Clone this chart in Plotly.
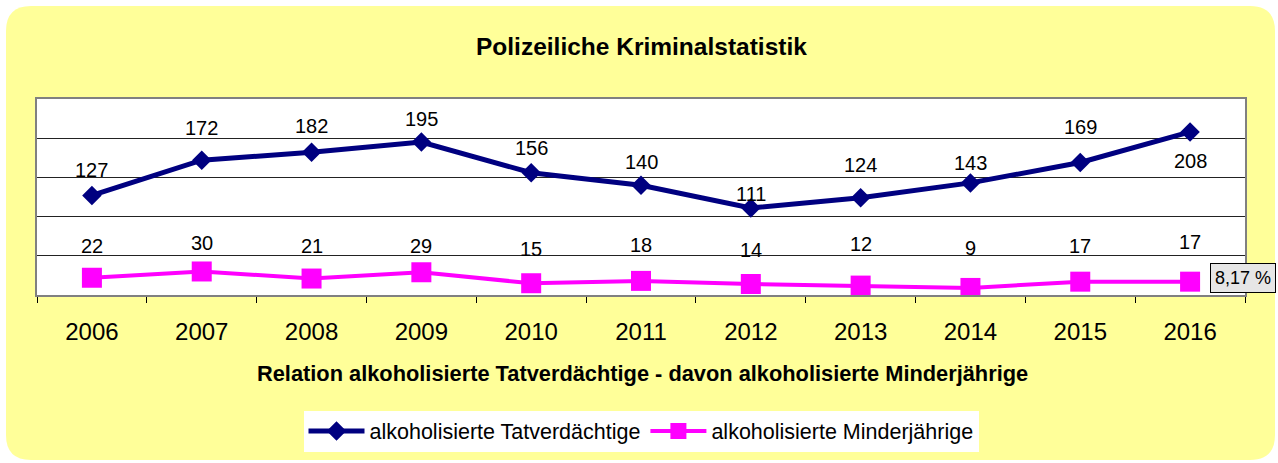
import plotly.graph_objects as go

years = ["2006", "2007", "2008", "2009", "2010", "2011", "2012", "2013", "2014", "2015", "2016"]
tatverdaechtige = [127, 172, 182, 195, 156, 140, 111, 124, 143, 169, 208]
minderjaehrige = [22, 30, 21, 29, 15, 18, 14, 12, 9, 17, 17]
name_tv = "alkoholisierte Tatverdächtige"
name_mj = "alkoholisierte Minderjährige"
title_text = "Polizeiliche Kriminalstatistik"
xtitle_text = "Relation alkoholisierte Tatverdächtige - davon alkoholisierte Minderjährige"
ratio_text = "8,17 %"

# label pixel offsets (style)
off_tv = [25, 32, 26, 23, 25, 23, 14, 33, 20, 36, -29]
off_mj = [32, 28, 33, 26, 34, 36, 34, 42, 40, 36, 40]

FONT = "Liberation Sans, Arial, sans-serif"
W, H = 1278, 463
L, R, T, B = 37, 33, 99, 168
pw, ph = W - L - R, H - T - B

def px(x):
    return (x - L) / pw

def py(y):
    return (H - B - y) / ph

fig = go.Figure()
fig.add_trace(go.Scatter(
    x=years, y=tatverdaechtige, name=name_tv, mode="lines+markers",
    line=dict(color="#000080", width=5),
    marker=dict(symbol="diamond", size=15, color="#000080"),
))
fig.add_trace(go.Scatter(
    x=years, y=minderjaehrige, name=name_mj, mode="lines+markers",
    line=dict(color="#FF00FF", width=4),
    marker=dict(symbol="square", size=20, color="#FF00FF"),
))

annotations = []
for i, (yv, o) in enumerate(zip(tatverdaechtige, off_tv)):
    annotations.append(dict(x=i, y=yv, text=str(yv), showarrow=False, yshift=o,
                            xanchor="center", yanchor="middle",
                            font=dict(family=FONT, size=20, color="black")))
for i, (yv, o) in enumerate(zip(minderjaehrige, off_mj)):
    annotations.append(dict(x=i, y=yv, text=str(yv), showarrow=False, yshift=o,
                            xanchor="center", yanchor="middle",
                            font=dict(family=FONT, size=20, color="black")))

annotations.append(dict(xref="paper", yref="paper", x=px(641), y=py(47), text="<b>" + title_text + "</b>",
                        xanchor="center", yanchor="middle",
                        showarrow=False, font=dict(family=FONT, size=24.5, color="black")))
annotations.append(dict(xref="paper", yref="paper", x=px(642), y=py(373), text="<b>" + xtitle_text + "</b>",
                        xanchor="center", yanchor="middle",
                        showarrow=False, font=dict(family=FONT, size=21.8, color="black")))
annotations.append(dict(xref="paper", yref="paper", x=px(1242.5), y=py(277.5), text=ratio_text,
                        xanchor="center", yanchor="middle",
                        showarrow=False, font=dict(family=FONT, size=18, color="black"),
                        bgcolor="#E6E6E6", bordercolor="black", borderwidth=1, borderpad=4))

# rounded yellow background
x0, x1, y0, y1 = px(6), px(1275), py(460), py(6)
rx, ry = 25 / pw, 25 / ph
path = (f"M {x0+rx},{y1} L {x1-rx},{y1} Q {x1},{y1} {x1},{y1-ry} "
        f"L {x1},{y0+ry} Q {x1},{y0} {x1-rx},{y0} L {x0+rx},{y0} "
        f"Q {x0},{y0} {x0},{y0+ry} L {x0},{y1-ry} Q {x0},{y1} {x0+rx},{y1} Z")
shapes = [
    dict(type="path", xref="paper", yref="paper", path=path, fillcolor="#FFFF99",
         line=dict(width=0), layer="below"),
    dict(type="rect", xref="paper", yref="paper", x0=0, x1=1, y0=0, y1=1,
         fillcolor="white", line=dict(width=0), layer="below"),
]

fig.update_layout(
    width=W, height=H,
    margin=dict(l=L, r=R, t=T, b=B),
    paper_bgcolor="white", plot_bgcolor="white",
    font=dict(family=FONT, color="black"),
    showlegend=True,
    legend=dict(orientation="h", x=px(641), xanchor="center", y=py(431), yanchor="middle",
                bgcolor="white", font=dict(family=FONT, size=21.5, color="black"),
                itemclick=False, itemwidth=56),
    annotations=annotations,
    shapes=shapes,
    xaxis=dict(type="category", showline=True, linecolor="#808080", linewidth=2, mirror=True,
               ticks="outside", tickson="boundaries", ticklen=6, tickcolor="black",
               ticklabelstandoff=14,
               showgrid=False, tickfont=dict(family=FONT, size=24, color="black"),
               range=[-0.5, 10.5]),
    yaxis=dict(range=[0, 250], dtick=50, showline=True, linecolor="#808080", linewidth=2,
               mirror=True, showticklabels=False, ticks="", showgrid=True,
               gridcolor="#222222", gridwidth=1, zeroline=False),
)

fig.write_html("out.html", config={"displayModeBar": False},
               post_script="document.body.style.margin='0';")
